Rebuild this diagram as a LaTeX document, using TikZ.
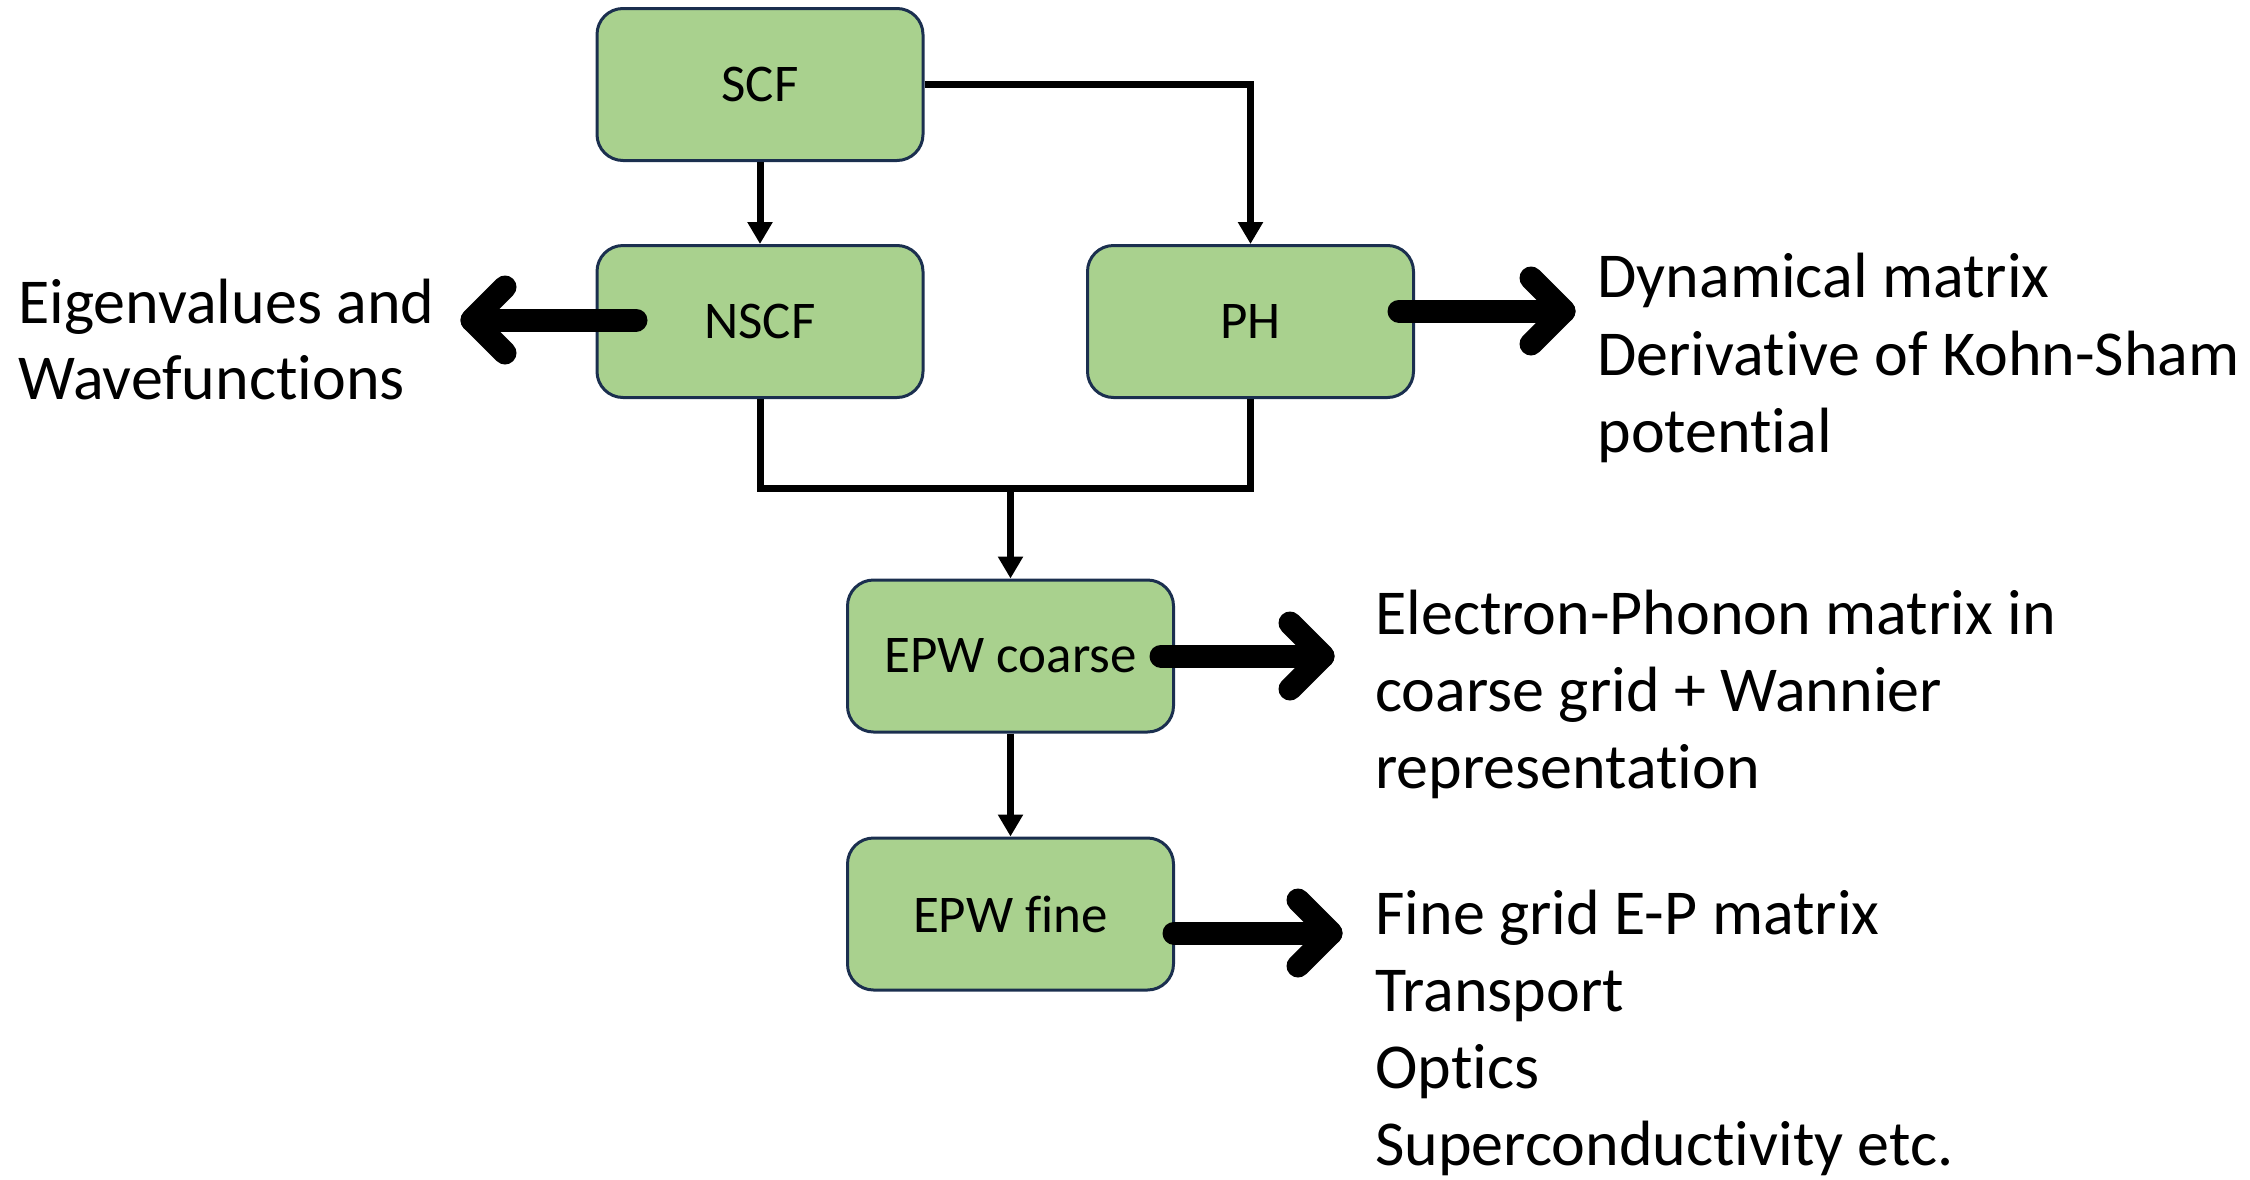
\documentclass[tikz,border=0pt]{standalone}
\usepackage{fontspec}
\setmainfont{Carlito}[Ligatures=NoCommon]
\usetikzlibrary{arrows.meta,calc}
\definecolor{boxgreen}{HTML}{A9D18E}
\definecolor{boxline}{HTML}{1B2F4F}
\begin{document}
\begin{tikzpicture}[x=0.5pt,y=-0.5pt,
  procbox/.style={draw=boxline,fill=boxgreen,line width=1.5pt,rounded corners=13pt,
    minimum width=163pt,minimum height=76pt,inner sep=0pt,font=\fontsize{26.5}{31}\selectfont},
  conn/.style={line width=3.5pt,-{Triangle[length=11pt,width=12pt]}},
  plainconn/.style={line width=3.5pt},
  fat/.style={line width=11.5pt,line cap=round,line join=round},
  outtext/.style={anchor=base west,inner sep=0pt,font=\fontsize{32}{38}\selectfont}]
\useasboundingbox (0,0) rectangle (2250,1179);
% boxes
\node[procbox] (scf)  at (760,84.5)  {SCF};
\node[procbox] (nscf) at (760,321.5) {NSCF};
\node[procbox] (ph)   at (1250.5,321.5) {PH};
\node[procbox] (epwc) at (1010.5,656) {EPW coarse};
\node[procbox] (epwf) at (1010.5,914) {EPW fine};
% thin connectors
\draw[conn] (scf.south) -- (nscf.north);
\draw[conn] (scf.east) -| (ph.north);
\coordinate (join) at (1010.5,488);
\draw[plainconn] (nscf.south) |- (join) -| (ph.south);
\draw[conn] (join) -- (epwc.north);
\draw[conn] (epwc.south) -- (epwf.north);
% output texts
\node[outtext] (l1) at (18,323) {Eigenvalues and};
\node[outtext] (l2) at (18,399) {Wavefunctions};
\node[outtext] (p1) at (1597,297) {Dynamical matrix};
\node[outtext] (p2) at (1597,375) {Derivative of Kohn-Sham};
\node[outtext] (p3) at (1597,452) {potential};
\node[outtext] (c1) at (1375,634) {Electron-Phonon matrix in};
\node[outtext] (c2) at (1375,711) {coarse grid + Wannier};
\node[outtext] (c3) at (1375,788) {representation};
\node[outtext] (f1) at (1375,934) {Fine grid E-P matrix};
\node[outtext] (f2) at (1375,1011) {Transport};
\node[outtext] (f3) at (1375,1088) {Optics};
\node[outtext] (f4) at (1375,1165) {Superconductivity etc.};
% thick output arrows
\coordinate (nsA) at (636,320);  \coordinate (nsT) at (472,320);
\coordinate (phA) at (1399,311); \coordinate (phT) at (1564,311);
\coordinate (ecA) at (1161,656); \coordinate (ecT) at (1323,656);
\coordinate (efA) at (1174,933); \coordinate (efT) at (1331,933);
\draw[fat] (nsA) -- (nsT);
\draw[fat] ($(nsT)+(33,-33)$) -- (nsT) -- ($(nsT)+(33,33)$);
\draw[fat] (phA) -- (phT);
\draw[fat] ($(phT)+(-33,-33)$) -- (phT) -- ($(phT)+(-33,33)$);
\draw[fat] (ecA) -- (ecT);
\draw[fat] ($(ecT)+(-33,-33)$) -- (ecT) -- ($(ecT)+(-33,33)$);
\draw[fat] (efA) -- (efT);
\draw[fat] ($(efT)+(-33,-33)$) -- (efT) -- ($(efT)+(-33,33)$);
\end{tikzpicture}
\end{document}
